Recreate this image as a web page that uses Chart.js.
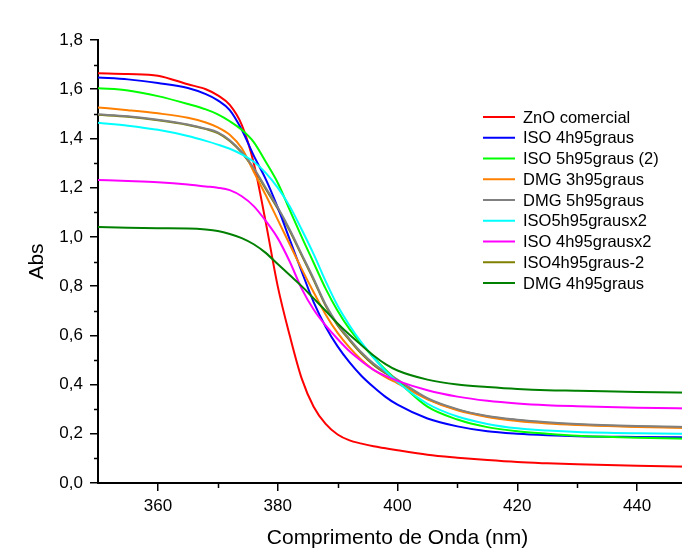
<!DOCTYPE html>
<html>
<head>
<meta charset="utf-8">
<script src="https://cdn.jsdelivr.net/npm/chart.js@4"></script>
<style>
  html, body { margin: 0; padding: 0; overflow: hidden; background: #ffffff; }
  #wrap { width: 712px; height: 551px; }
</style>
</head>
<body>
<div id="wrap"><canvas id="grafico" width="712" height="551"></canvas></div>
<script>
// comprimento de onda (nm)
const comprimentos = [350, 355, 360, 365, 368, 370, 372, 374, 376, 378, 380, 382, 384, 386, 388, 390, 392, 394, 396, 398, 400, 405, 410, 415, 420, 425, 430, 440, 450];

const znoComercial = [1.665, 1.662, 1.655, 1.62, 1.60, 1.575, 1.536, 1.455, 1.30, 1.06, 0.80, 0.60, 0.425, 0.31, 0.24, 0.197, 0.173, 0.16, 0.149, 0.141, 0.133, 0.115, 0.103, 0.093, 0.085, 0.08, 0.076, 0.07, 0.066];
const iso4h = [1.648, 1.64, 1.625, 1.605, 1.58, 1.555, 1.515, 1.435, 1.33, 1.235, 1.12, 0.99, 0.86, 0.735, 0.635, 0.555, 0.49, 0.435, 0.39, 0.35, 0.318, 0.262, 0.23, 0.21, 0.2, 0.194, 0.19, 0.187, 0.185];
const iso5h2 = [1.604, 1.595, 1.572, 1.54, 1.518, 1.498, 1.47, 1.435, 1.385, 1.305, 1.22, 1.11, 1.0, 0.895, 0.79, 0.70, 0.625, 0.565, 0.51, 0.46, 0.415, 0.31, 0.258, 0.227, 0.21, 0.2, 0.192, 0.184, 0.179];
const dmg3h = [1.526, 1.515, 1.502, 1.484, 1.465, 1.445, 1.415, 1.36, 1.265, 1.17, 1.07, 0.97, 0.87, 0.775, 0.685, 0.61, 0.55, 0.50, 0.46, 0.43, 0.405, 0.34, 0.295, 0.268, 0.252, 0.242, 0.236, 0.228, 0.223];
const dmg5h = [1.498, 1.49, 1.476, 1.457, 1.44, 1.425, 1.393, 1.345, 1.28, 1.20, 1.12, 1.03, 0.93, 0.83, 0.725, 0.645, 0.585, 0.53, 0.485, 0.45, 0.42, 0.345, 0.3, 0.272, 0.257, 0.247, 0.24, 0.232, 0.227];
const iso5hx2 = [1.464, 1.452, 1.435, 1.41, 1.39, 1.375, 1.358, 1.335, 1.305, 1.26, 1.20, 1.125, 1.03, 0.93, 0.82, 0.72, 0.64, 0.57, 0.51, 0.455, 0.41, 0.322, 0.27, 0.24, 0.222, 0.213, 0.207, 0.202, 0.2];
const iso4hx2 = [1.231, 1.227, 1.222, 1.213, 1.205, 1.2, 1.19, 1.165, 1.125, 1.065, 0.995, 0.90, 0.79, 0.705, 0.64, 0.585, 0.535, 0.495, 0.46, 0.435, 0.415, 0.377, 0.351, 0.334, 0.323, 0.316, 0.312, 0.306, 0.302];
const iso4h2 = [1.496, 1.488, 1.474, 1.455, 1.438, 1.422, 1.39, 1.342, 1.275, 1.195, 1.115, 1.025, 0.925, 0.825, 0.72, 0.64, 0.58, 0.525, 0.48, 0.446, 0.416, 0.342, 0.298, 0.27, 0.255, 0.245, 0.238, 0.23, 0.225];
const dmg4h = [1.04, 1.037, 1.035, 1.034, 1.03, 1.024, 1.012, 0.995, 0.97, 0.935, 0.89, 0.845, 0.8, 0.75, 0.7, 0.648, 0.602, 0.56, 0.518, 0.483, 0.457, 0.42, 0.4, 0.39, 0.382, 0.377, 0.375, 0.37, 0.367];

const nomes = ['ZnO comercial', 'ISO 4h95graus', 'ISO 5h95graus (2)', 'DMG 3h95graus', 'DMG 5h95graus', 'ISO5h95grausx2', 'ISO 4h95grausx2', 'ISO4h95graus-2', 'DMG 4h95graus'];
const series = [znoComercial, iso4h, iso5h2, dmg3h, dmg5h, iso5hx2, iso4hx2, iso4h2, dmg4h];
const cores = ['#ff0000', '#0000ff', '#00ff00', '#ff8000', '#808080', '#00ffff', '#ff00ff', '#808000', '#008000'];
// ordem de desenho (maior = por baixo)
const ordem = [9, 8, 7, 6, 4, 3, 2, 10, 1];

const xTicks = [360, 380, 400, 420, 440];
const xMinor = [370, 390, 410, 430, 450];
const yTicks = [0, 0.2, 0.4, 0.6, 0.8, 1.0, 1.2, 1.4, 1.6, 1.8];
const yMinor = [0.1, 0.3, 0.5, 0.7, 0.9, 1.1, 1.3, 1.5, 1.7];

const fonte = "'Liberation Sans', Arial, sans-serif";

const minorTicks = {
  id: 'minorTicks',
  afterDraw(chart) {
    const ctx = chart.ctx;
    const x = chart.scales.x;
    const y = chart.scales.y;
    const area = chart.chartArea;
    ctx.save();
    ctx.strokeStyle = '#000000';
    ctx.lineWidth = 1.5;
    ctx.beginPath();
    yMinor.forEach(v => {
      const py = Math.round(y.getPixelForValue(v)) + 0.5;
      ctx.moveTo(area.left, py);
      ctx.lineTo(area.left - 4, py);
    });
    xMinor.forEach(v => {
      const px = Math.round(x.getPixelForValue(v)) + 0.5;
      ctx.moveTo(px, area.bottom);
      ctx.lineTo(px, area.bottom + 5);
    });
    ctx.stroke();
    ctx.restore();
  }
};

const legendaInterna = {
  id: 'legendaInterna',
  afterDraw(chart) {
    const ctx = chart.ctx;
    const area = chart.chartArea;
    const x0 = area.left + 385;
    const y0 = area.top + 77;
    const passo = 20.75;
    ctx.save();
    ctx.font = '16.5px ' + fonte;
    ctx.textBaseline = 'middle';
    ctx.textAlign = 'left';
    chart.data.datasets.forEach((ds, i) => {
      const yy = y0 + i * passo;
      ctx.strokeStyle = ds.borderColor;
      ctx.lineWidth = 2;
      ctx.beginPath();
      ctx.moveTo(x0, yy);
      ctx.lineTo(x0 + 32, yy);
      ctx.stroke();
      ctx.fillStyle = '#000000';
      ctx.fillText(ds.label, x0 + 40, yy + 1);
    });
    ctx.restore();
  }
};

const ctx = document.getElementById('grafico').getContext('2d');
new Chart(ctx, {
  type: 'line',
  data: {
    datasets: series.map((vals, i) => ({
      label: nomes[i],
      data: comprimentos.map((c, j) => ({ x: c, y: vals[j] })),
      borderColor: cores[i],
      backgroundColor: cores[i],
      borderWidth: 2,
      pointRadius: 0,
      fill: false,
      cubicInterpolationMode: 'monotone',
      order: ordem[i]
    }))
  },
  options: {
    responsive: false,
    animation: false,
    devicePixelRatio: 1,
    layout: { padding: { top: 40, right: 15, bottom: 0, left: 0 } },
    plugins: {
      legend: { display: false },
      tooltip: { enabled: false }
    },
    scales: {
      x: {
        type: 'linear',
        min: 350,
        max: 450,
        afterBuildTicks: s => { s.ticks = xTicks.map(v => ({ value: v })); },
        afterFit: s => { s.height = 68; },
        border: { display: true, color: '#000000', width: 2 },
        grid: { display: true, drawOnChartArea: false, drawTicks: true, tickLength: 8, color: '#000000', lineWidth: 1.5 },
        ticks: {
          padding: 5,
          maxRotation: 0,
          color: '#000000',
          font: { family: fonte, size: 17 },
          callback: v => String(v)
        },
        title: {
          display: true,
          text: 'Comprimento de Onda (nm)',
          color: '#000000',
          font: { family: fonte, size: 21 },
          padding: { top: 4, bottom: 0 }
        }
      },
      y: {
        type: 'linear',
        min: 0,
        max: 1.8,
        afterBuildTicks: s => { s.ticks = yTicks.map(v => ({ value: v })); },
        afterFit: s => { s.width = 98; },
        border: { display: true, color: '#000000', width: 2 },
        grid: { display: true, drawOnChartArea: false, drawTicks: true, tickLength: 8, color: '#000000', lineWidth: 1.5 },
        ticks: {
          padding: 7,
          color: '#000000',
          font: { family: fonte, size: 17 },
          callback: v => v.toFixed(1).replace('.', ',')
        },
        title: {
          display: true,
          text: 'Abs',
          color: '#000000',
          font: { family: fonte, size: 21 },
          padding: { top: 25, bottom: 0 }
        }
      }
    }
  },
  plugins: [minorTicks, legendaInterna]
});
</script>
</body>
</html>
